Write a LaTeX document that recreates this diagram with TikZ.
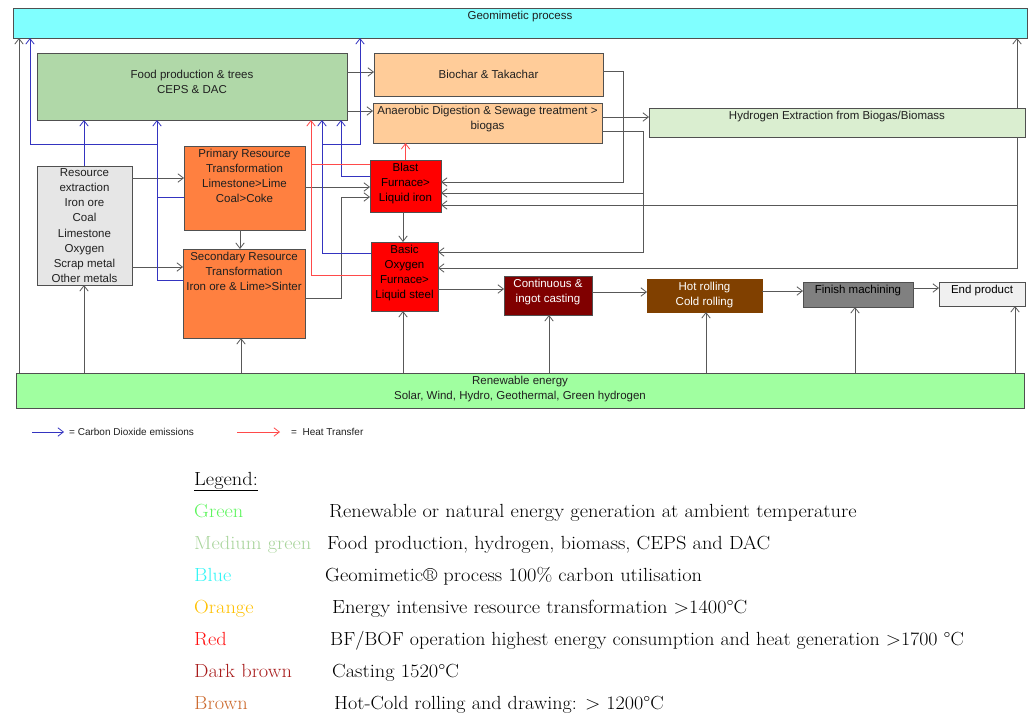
\documentclass[tikz,border=0pt]{standalone}
\usepackage{fontspec}
\usepackage{graphicx}
\newfontfamily\arialf{Liberation Sans}
\usetikzlibrary{arrows.meta,calc}
\definecolor{cgeo}{HTML}{80FFFF}
\definecolor{cfood}{HTML}{B0D8A8}
\definecolor{cpeach}{HTML}{FFCC99}
\definecolor{chyd}{HTML}{DAEED0}
\definecolor{cres}{HTML}{E6E6E6}
\definecolor{corange}{HTML}{FF8040}
\definecolor{cred}{HTML}{FF0000}
\definecolor{ccast}{HTML}{800000}
\definecolor{croll}{HTML}{804000}
\definecolor{cfin}{HTML}{808080}
\definecolor{cend}{HTML}{F0F0F0}
\definecolor{cren}{HTML}{A0FFA0}
\definecolor{bord}{HTML}{505050}
\definecolor{gcol}{HTML}{585858}
\definecolor{bcol}{HTML}{3434C0}
\definecolor{rcol}{HTML}{FF4A4A}
\definecolor{txt}{HTML}{202020}
\definecolor{lgGreen}{HTML}{5EF55E}
\definecolor{lgMed}{HTML}{A9D49C}
\definecolor{lgBlue}{HTML}{33F5F5}
\definecolor{lgOrange}{HTML}{FFC000}
\definecolor{lgRed}{HTML}{FF1010}
\definecolor{lgDark}{HTML}{A81C1C}
\definecolor{lgBrown}{HTML}{CC6A2E}
\newcommand\diagfont{\arialf\fontsize{11.5}{15}\selectfont}
\newcommand\smallleg{\arialf\fontsize{10}{12}\selectfont}
\newcommand\legfont{\fontsize{19}{22}\selectfont}
\newcommand\wide[1]{\scalebox{1.075}[1]{#1}}
\begin{document}
\begin{tikzpicture}[x=1pt,y=-1pt,
  box/.style={draw=bord, line width=0.9pt, inner sep=0pt, outer sep=0pt, font=\diagfont, text=txt, align=center},
  lab/.style={anchor=north, inner sep=0pt, yshift=-2.5pt, align=center, font=\diagfont, text=txt},
  gl/.style={draw=gcol, line width=0.8pt},
  ga/.style={gl, -{Straight Barb[length=5.5pt,width=8.5pt]}},
  bl/.style={draw=bcol, line width=0.8pt},
  ba/.style={bl, -{Straight Barb[length=5.5pt,width=8.5pt]}},
  rl/.style={draw=rcol, line width=0.8pt},
  ra/.style={rl, -{Straight Barb[length=5.5pt,width=8.5pt]}},
  leg/.style={inner sep=0pt, font=\legfont, text=black, anchor=base west},
  sleg/.style={inner sep=0pt, font=\smallleg, text=txt, anchor=west}
]
\useasboundingbox (0,0) rectangle (1032,715);

% boxes
\node[box, fill=cgeo, minimum width=1014pt, minimum height=30pt, label={[lab]north:Geomimetic process}] (geo) at (520,23) {};
\node[box, fill=cfood, minimum width=310pt, minimum height=67pt, label={[lab,yshift=-14pt]north:{Food production \& trees\\CEPS \& DAC}}] (food) at (192,86.5) {};
\node[box, fill=cpeach, minimum width=229pt, minimum height=43pt] (biochar) at (488.5,74.5) {Biochar \& Takachar};
\node[box, fill=cpeach, minimum width=229pt, minimum height=40pt, label={[lab,yshift=-0.5pt]north:{Anaerobic Digestion \& Sewage treatment >\\biogas}}] (anaer) at (487.5,123) {};
\node[box, fill=chyd, minimum width=376pt, minimum height=29pt, label={[lab]north:Hydrogen Extraction from Biogas/Biomass}] (hydro) at (837,122.5) {};
\node[box, fill=cres, minimum width=95pt, minimum height=119pt, font=\arialf\fontsize{11.5}{15.2}\selectfont] (res) at (84.5,225.5) {Resource\\extraction\\Iron ore\\Coal\\Limestone\\Oxygen\\Scrap metal\\Other metals};
\node[box, fill=corange, minimum width=121pt, minimum height=84pt, label={[lab]north:{Primary Resource\\Transformation\\Limestone>Lime\\Coal>Coke}}] (prim) at (244.5,188) {};
\node[box, fill=corange, minimum width=122pt, minimum height=89pt, label={[lab]north:{Secondary Resource\\Transformation\\Iron ore \& Lime>Sinter}}] (sec) at (244,293.5) {};
\node[box, fill=cred, minimum width=71pt, minimum height=52pt, label={[lab,text=black]north:{Blast\\Furnace>\\Liquid iron}}] (bf) at (405.5,186) {};
\node[box, fill=cred, minimum width=67pt, minimum height=69pt, label={[lab,text=black,yshift=-0.5pt]north:{Basic\\Oxygen\\Furnace>\\Liquid steel}}] (bof) at (404.5,276.5) {};
\node[box, fill=ccast, minimum width=88pt, minimum height=39pt, label={[lab,text=white,yshift=-0.5pt]north:{Continuous \&\\ingot casting}}] (cast) at (548,295.5) {};
\node[box, fill=croll, draw=croll, minimum width=115pt, minimum height=33pt, label={[lab,text=white]north:{Hot rolling\\Cold rolling}}] (roll) at (704.5,295.5) {};
\node[box, fill=cfin, minimum width=110pt, minimum height=25pt, label={[lab,text=black]north:Finish machining}] (fin) at (858,294.5) {};
\node[box, fill=cend, minimum width=86pt, minimum height=24pt, label={[lab,text=black]north:End product}] (endp) at (982,294) {};
\node[box, fill=cren, minimum width=1008pt, minimum height=35pt, label={[lab,yshift=-0.5pt]north:{Renewable energy\\Solar, Wind, Hydro, Geothermal, Green hydrogen}}] (ren) at (520,390.5) {};

% helper coordinates
\coordinate (xL) at (19,0);
\coordinate (xB1) at (30,0);
\coordinate (xR) at (84,0);
\coordinate (xB2) at (157,0);
\coordinate (xP) at (240,0);
\coordinate (xS) at (241,0);
\coordinate (xRd) at (311,0);
\coordinate (xB3) at (322,0);
\coordinate (xB4) at (341,0);
\coordinate (xB5) at (360,0);
\coordinate (xF1) at (403,0);
\coordinate (xBc) at (623,0);
\coordinate (xAn) at (643,0);
\coordinate (xC) at (549,0);
\coordinate (xHR) at (706,0);
\coordinate (xFn) at (855,0);
\coordinate (xE) at (1015,0);
\coordinate (xH) at (1017,0);

\coordinate (y71) at (0,71);
\coordinate (y72) at (0,72);
\coordinate (y111) at (0,111);
\coordinate (y117) at (0,117);
\coordinate (y131) at (0,131);
\coordinate (y144) at (0,144);
\coordinate (y164) at (0,164);
\coordinate (y176) at (0,176);
\coordinate (y178) at (0,178);
\coordinate (y182) at (0,182);
\coordinate (y187) at (0,187);
\coordinate (y193) at (0,193);
\coordinate (y197) at (0,197);
\coordinate (y205) at (0,205);
\coordinate (y252) at (0,252);
\coordinate (y253) at (0,253);
\coordinate (y267) at (0,267);
\coordinate (y268) at (0,268);
\coordinate (y275) at (0,275);
\coordinate (y280) at (0,280);
\coordinate (y288) at (0,288);
\coordinate (y289) at (0,289);
\coordinate (y291) at (0,291);
\coordinate (y292) at (0,292);
\coordinate (y298) at (0,298);

% gray connectors
\draw[ga] (ren.north -| xL) -- (geo.south -| xL);
\draw[ga] (ren.north -| xR) -- (res.south -| xR);
\draw[ga] (ren.north -| xS) -- (sec.south -| xS);
\draw[ga] (ren.north -| xF1) -- (bof.south -| xF1);
\draw[ga] (ren.north -| xC) -- (cast.south -| xC);
\draw[ga] (ren.north -| xHR) -- (roll.south -| xHR);
\draw[ga] (ren.north -| xFn) -- (fin.south -| xFn);
\draw[ga] (ren.north -| xE) -- (endp.south -| xE);
\draw[ga] (res.east |- y178) -- (prim.west |- y178);
\draw[ga] (res.east |- y267) -- (sec.west |- y267);
\draw[ga] (prim.south -| xP) -- (sec.north -| xP);
\draw[ga] (prim.east |- y187) -- (bf.west |- y187);
\draw[ga] (sec.east |- y298) -- (xB4 |- y298) -- (xB4 |- y197) -- (bf.west |- y197);
\draw[ga] (food.east |- y72) -- (biochar.west |- y72);
\draw[ga] (food.east |- y111) -- (anaer.west |- y111);
\draw[ga] (bf.south -| xF1) -- (bof.north -| xF1);
\draw[ga] (biochar.east |- y71) -- (xBc |- y71) -- (xBc |- y182) -- (bf.east |- y182);
\draw[ga] (anaer.east |- y117) -- (hydro.west |- y117);
\draw[ga] (anaer.east |- y131) -- (xAn |- y131) -- (xAn |- y252) -- (bof.east |- y252);
\draw[ga] (xAn |- y193) -- (bf.east |- y193);
\draw[ga] (hydro.north -| xH) -- (geo.south -| xH);
\draw[ga] (hydro.south -| xH) -- (xH |- y268) -- (bof.east |- y268);
\draw[ga] (xH |- y205) -- (bf.east |- y205);
\draw[ga] (bof.east |- y289) -- (cast.west |- y289);
\draw[ga] (cast.east |- y292) -- (roll.west |- y292);
\draw[ga] (roll.east |- y291) -- (fin.west |- y291);
\draw[ga] (fin.east |- y288) -- (endp.west |- y288);

% blue connectors (CO2)
\draw[ba] (res.north -| xR) -- (food.south -| xR);
\draw[bl] (prim.west |- y197) -- (xB2 |- y197);
\draw[ba] (sec.west |- y280) -- (xB2 |- y280) -- (food.south -| xB2);
\draw[ba] (xB2 |- y144) -- (xB1 |- y144) -- (geo.south -| xB1);
\draw[ba] (bof.west |- y253) -- (xB3 |- y253) -- (food.south -| xB3);
\draw[ba] (bf.west |- y176) -- (xB4 |- y176) -- (food.south -| xB4);
\draw[ba] (xB3 |- y144) -- (xB5 |- y144) -- (geo.south -| xB5);

% red connectors (heat)
\draw[ra] (bof.west |- y275) -- (xRd |- y275) -- (food.south -| xRd);
\draw[rl] (bf.west |- y164) -- (xRd |- y164);
\draw[ra] (bf.north) -- (anaer.south -| bf.north);

% small legend
\coordinate (lb1) at (32,432);
\coordinate (lb2) at (64,432);
\coordinate (lr1) at (237,432);
\coordinate (lr2) at (280,432);
\draw[ba] (lb1) -- (lb2);
\draw[ra] (lr1) -- (lr2);
\node[sleg] (lbt) at (69,432) {= Carbon Dioxide emissions};
\node[sleg] (lrt) at (291,432) {=\ \ Heat Transfer};

% colour legend
\node[leg] (lgh) at (194,485) {\wide{\underline{Legend:}}};
\node[leg, text=lgGreen] (n1) at (194,517) {\wide{Green}};
\node[leg] (d1) at (329,517) {\wide{Renewable or natural energy generation at ambient temperature}};
\node[leg, text=lgMed] (n2) at (194,549) {\wide{Medium green}};
\node[leg] (d2) at (327,549) {\wide{Food production, hydrogen, biomass, CEPS and DAC}};
\node[leg, text=lgBlue] (n3) at (194,581) {\wide{Blue}};
\node[leg] (d3) at (325,581) {\wide{Geomimetic® process 100\% carbon utilisation}};
\node[leg, text=lgOrange] (n4) at (194,613) {\wide{Orange}};
\node[leg] (d4) at (332,613) {\wide{Energy intensive resource transformation >1400°C}};
\node[leg, text=lgRed] (n5) at (194,645) {\wide{Red}};
\node[leg] (d5) at (330,645) {\scalebox{1.05}[1]{BF/BOF operation highest energy consumption and heat generation >1700 °C}};
\node[leg, text=lgDark] (n6) at (194,677) {\wide{Dark brown}};
\node[leg] (d6) at (332,677) {\wide{Casting 1520°C}};
\node[leg, text=lgBrown] (n7) at (194,709) {\wide{Brown}};
\node[leg] (d7) at (334,709) {\scalebox{1.06}[1]{Hot-Cold rolling and drawing: > 1200°C}};
\end{tikzpicture}
\end{document}
